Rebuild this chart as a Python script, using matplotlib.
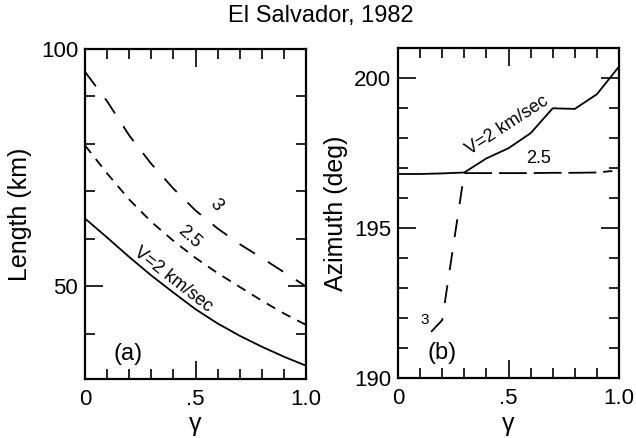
import matplotlib
matplotlib.use("Agg")
import matplotlib.pyplot as plt
from matplotlib.ticker import MultipleLocator, FixedLocator, FuncFormatter

plt.rcParams['font.family'] = ['Liberation Sans', 'DejaVu Sans']
plt.rcParams['lines.scale_dashes'] = False

# ---------------- data ----------------
gamma = [0.0, 0.1, 0.2, 0.3, 0.4, 0.5, 0.6, 0.7, 0.8, 0.9, 1.0]

# (a) rupture length (km)
len_v2 = [64.3, 60.3, 56.2, 52.3, 48.7, 45.2, 42.2, 39.6, 37.3, 35.2, 33.3]
len_v25 = [79.7, 73.8, 68.3, 63.6, 59.6, 56.0, 52.8, 49.9, 47.0, 44.3, 41.9]
len_v3 = [95.2, 89.0, 81.8, 75.8, 70.6, 66.0, 62.2, 58.9, 56.0, 53.0, 50.0]

# (b) azimuth (deg)
az_v2 = [196.8, 196.8, 196.82, 196.85, 197.32, 197.66, 198.16, 198.99, 198.97, 199.46, 200.38]
gamma_v25b = [0.3, 0.4, 0.5, 0.6, 0.7, 0.8, 0.9, 0.97]
az_v25 = [196.83, 196.83, 196.83, 196.83, 196.84, 196.84, 196.85, 196.9]
gamma_v3b = [0.15, 0.2, 0.3]
az_v3 = [191.54, 191.93, 196.85]

title = "El Salvador, 1982"

# ---------------- figure ----------------
W, H = 636, 438
fig = plt.figure(figsize=(W / 100, H / 100), dpi=100)

def px_axes(l, r, t, b):
    return fig.add_axes([l / W, 1 - b / H, (r - l) / W, (b - t) / H])

axA = px_axes(85, 306, 49, 379)
axB = px_axes(398, 619, 48, 378)

LW = 1.3
long_dash = (13, 11)
short_dash = (7, 5.5)

def fmt_x(v, pos):
    if abs(v) < 1e-9:
        return "0"
    if abs(v - 0.5) < 1e-9:
        return ".5"
    return "1.0"

def style(ax):
    for s in ax.spines.values():
        s.set_linewidth(1.6)
    ax.set_xlim(0, 1.0)
    ax.xaxis.set_major_locator(FixedLocator([0, 0.5, 1.0]))
    ax.xaxis.set_minor_locator(MultipleLocator(0.1))
    ax.xaxis.set_major_formatter(FuncFormatter(fmt_x))
    ax.tick_params(which='both', direction='in', top=True, right=True, width=1.2)
    ax.tick_params(which='major', length=13)
    ax.tick_params(which='minor', length=7)
    ax.tick_params(axis='x', which='major', labelsize=16, pad=7)
    ax.tick_params(axis='y', which='major', labelsize=16, pad=5)
    ax.set_xlabel("γ", fontsize=18, labelpad=2)

# ---- panel (a)
axA.plot(gamma, len_v2, color='black', lw=LW)
axA.plot(gamma, len_v25, color='black', lw=LW, dashes=short_dash)
axA.plot(gamma, len_v3, color='black', lw=LW, dashes=long_dash)
axA.set_ylim(30.5, 100)
axA.yaxis.set_major_locator(FixedLocator([50, 100]))
axA.yaxis.set_minor_locator(MultipleLocator(10))
style(axA)
axA.set_ylabel("Length (km)", fontsize=18, labelpad=6)
axA.text(0.595, 67.1, "3", fontsize=13, rotation=-50, ha='center', va='center')
axA.text(0.474, 60.4, "2.5", fontsize=13, rotation=-42, ha='center', va='center')
axA.text(0.40, 51.5, "V=2 km/sec", fontsize=13, rotation=-38, ha='center', va='center')
axA.text(0.195, 35.8, "(a)", fontsize=17, ha='center', va='center')

# ---- panel (b)
axB.plot(gamma, az_v2, color='black', lw=LW)
axB.plot(gamma_v25b, az_v25, color='black', lw=LW, dashes=(20, 5))
axB.plot(gamma_v3b, az_v3, color='black', lw=LW, dashes=long_dash)
axB.set_ylim(190, 201)
axB.yaxis.set_major_locator(FixedLocator([190, 195, 200]))
axB.yaxis.set_minor_locator(MultipleLocator(1))
style(axB)
axB.set_ylabel("Azimuth (deg)", fontsize=18, labelpad=4)
axB.text(0.495, 198.41, "V=2 km/sec", fontsize=13, rotation=33, ha='center', va='center')
axB.text(0.635, 197.33, "2.5", fontsize=13, ha='center', va='center')
axB.text(0.122, 191.94, "3", fontsize=11, ha='center', va='center')
axB.text(0.198, 190.83, "(b)", fontsize=17, ha='center', va='center')

fig.text(321 / W, 1 - 16 / H, title, fontsize=17, ha='center', va='center')

fig.savefig("out.png", dpi=100)
